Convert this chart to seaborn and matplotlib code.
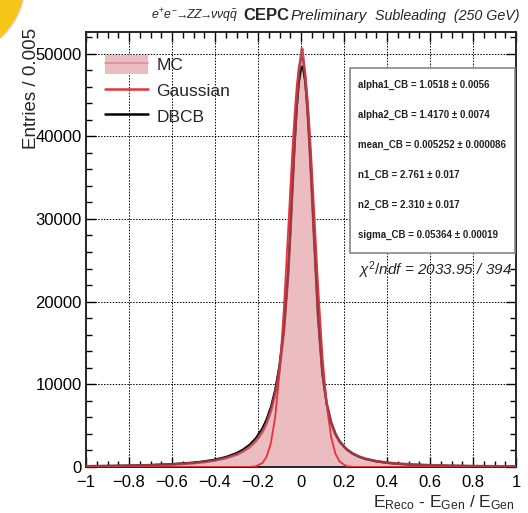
import matplotlib
matplotlib.use('Agg')
import matplotlib.pyplot as plt
import matplotlib.patches as mpatches
from matplotlib.lines import Line2D
from matplotlib.ticker import MultipleLocator, FixedLocator, FixedFormatter
import seaborn as sns
import numpy as np
import pandas as pd

x_vals = [-1.0, -0.9, -0.8, -0.7, -0.6, -0.5, -0.45, -0.4, -0.35, -0.3, -0.27, -0.24, -0.21,
          -0.18, -0.16, -0.14, -0.12, -0.10, -0.08, -0.06, -0.05, -0.04, -0.03, -0.02, -0.01,
          0.0, 0.005, 0.01, 0.02, 0.03, 0.04, 0.05, 0.06, 0.08, 0.10, 0.12, 0.14, 0.16, 0.18,
          0.21, 0.24, 0.27, 0.30, 0.35, 0.40, 0.45, 0.5, 0.6, 0.7, 0.8, 0.9, 1.0]
mc_vals = [80, 110, 150, 210, 300, 470, 610, 800, 1080, 1500, 1880, 2400, 3150,
           4250, 5300, 6800, 8900, 11900, 16400, 23300, 28300, 33800, 39200, 43900, 47600,
           49800, 50600, 49600, 47000, 43500, 39000, 33800, 28300, 18000, 11300, 7600, 5400, 4000, 3080,
           2200, 1640, 1260, 1000, 710, 530, 410, 320, 215, 150, 110, 85, 65]
dbcb_vals = [98, 128, 171, 239, 346, 532, 682, 891, 1202, 1675, 2094, 2663, 3468,
             4642, 5745, 7235, 9310, 12265, 16690, 23600, 28600, 34000, 39120, 43400, 46550,
             48190, 48400, 48190, 46550, 43400, 39120, 34000, 28600, 18180, 11240, 7557, 5384, 4004, 3080,
             2183, 1618, 1240, 976, 690, 509, 390, 306, 202, 142, 105, 80, 63]
gaus_vals = [0, 0, 0, 0, 0, 0, 0, 0, 0, 0, 2, 14, 91,
             473, 1237, 2893, 6053, 11350, 19010, 28520, 33510, 38310, 42560, 46000, 48350,
             49440, 49470, 49160, 47560, 44740, 40930, 36420, 31540, 21680, 13360, 7380, 3650, 1613, 639,
             129, 20, 2, 0, 0, 0, 0, 0, 0, 0, 0, 0, 0]

xtick_vals = [-1, -0.8, -0.6, -0.4, -0.2, 0, 0.2, 0.4, 0.6, 0.8, 1]
xtick_labels = ['\u22121', '\u22120.8', '\u22120.6', '\u22120.4', '\u22120.2', '0',
                '0.2', '0.4', '0.6', '0.8', '1']
ytick_vals = [0, 10000, 20000, 30000, 40000, 50000]

param_names = ['alpha1_CB', 'alpha2_CB', 'mean_CB', 'n1_CB', 'n2_CB', 'sigma_CB']
param_vals = ['1.0518', '1.4170', '0.005252', '2.761', '2.310', '0.05364']
param_errs = ['0.0056', '0.0074', '0.000086', '0.017', '0.017', '0.00019']

df = pd.DataFrame({'x': x_vals, 'MC': mc_vals, 'DBCB': dbcb_vals, 'Gaussian': gaus_vals})

sns.set_style('ticks')
plt.rcParams['font.family'] = ['Liberation Sans', 'DejaVu Sans']
plt.rcParams['mathtext.fontset'] = 'custom'
plt.rcParams['mathtext.rm'] = 'Liberation Sans'
plt.rcParams['mathtext.it'] = 'Liberation Sans:italic'
plt.rcParams['mathtext.bf'] = 'Liberation Sans:bold'

fill_col = '#ebbcc0'
edge_col = '#b3414b'
gaus_col = '#e8323c'

fig = plt.figure(figsize=(5.28, 5.13), dpi=100)
ax = fig.add_axes([86 / 528, 1 - 467 / 513, 430 / 528, 435 / 513])

ax.fill_between(df['x'], 0, df['MC'], color=fill_col, lw=0, zorder=2)
sns.lineplot(data=df, x='x', y='DBCB', color='black', lw=1.6, ax=ax, zorder=3)
sns.lineplot(data=df, x='x', y='Gaussian', color=gaus_col, lw=1.3, ax=ax, zorder=4)
sns.lineplot(data=df, x='x', y='MC', color=edge_col, lw=2.0, alpha=0.85, ax=ax, zorder=5)

ax.set_xlim(-1, 1)
ax.set_ylim(0, 52600)
ax.xaxis.set_major_locator(FixedLocator(xtick_vals))
ax.xaxis.set_major_formatter(FixedFormatter(xtick_labels))
ax.xaxis.set_minor_locator(MultipleLocator(0.05))
ax.yaxis.set_major_locator(FixedLocator(ytick_vals))
ax.yaxis.set_minor_locator(MultipleLocator(2000))
ax.tick_params(which='both', direction='in', top=True, right=True, labelsize=12, width=1, colors='black')
ax.tick_params(which='major', length=7, pad=3)
ax.tick_params(axis='x', which='major', pad=6)
ax.tick_params(which='minor', length=4)
for s in ax.spines.values():
    s.set_linewidth(1.4)
ax.grid(True, which='major', ls=(0, (1.5, 1.5)), color='black', lw=0.7, zorder=1)
ax.set_axisbelow(True)
ax.set_xlabel('')
ax.set_ylabel('')

fig.text(515 / 528, 1 - 507 / 513, r'E$_{\rm Reco}$ - E$_{\rm Gen}$ / E$_{\rm Gen}$',
         ha='right', va='baseline', fontsize=12.5)
fig.text(31 / 528, 1 - 28 / 513, 'Entries / 0.005', rotation=90, ha='center', va='top', fontsize=13.5)

# header, pieces placed where they sit in the original
ty = 1 - 16 / 513
fig.text(238 / 528, ty, r'$e^{+}e^{-}\!\!\rightarrow\!\!ZZ\!\!\rightarrow\!\!\nu\nu q\bar{q}$',
         ha='right', va='center', fontsize=8.8)
fig.text(243 / 528, ty, 'CEPC', ha='left', va='center', fontsize=12, fontweight='bold')
fig.text(291 / 528, ty, 'Preliminary', ha='left', va='center', fontsize=11, style='italic')
fig.text(375 / 528, ty, 'Subleading  (250 GeV)', ha='left', va='center', fontsize=10.3, style='italic')

# legend
mc_handle = (mpatches.Patch(facecolor=fill_col, edgecolor='none'),
             Line2D([], [], color='#d89098', lw=1.2))
handles = [mc_handle, Line2D([], [], color=gaus_col, lw=1.8), Line2D([], [], color='black', lw=1.8)]
ax.legend(handles, ['MC', 'Gaussian', 'DBCB'], loc='upper left', bbox_to_anchor=(0.035, 0.955),
          frameon=False, fontsize=12.5, handlelength=2.5, handleheight=1.3, handletextpad=0.5,
          labelspacing=0.4, borderpad=0.2, borderaxespad=0)

# parameter box
box = mpatches.Rectangle((0.614, 0.492), 0.383, 0.425, transform=ax.transAxes,
                         facecolor='white', edgecolor='#888888', lw=1.2, zorder=6)
ax.add_patch(box)
for i, (n, v, e) in enumerate(zip(param_names, param_vals, param_errs)):
    ypx = 85 + 30 * i
    ax.text(0.632, (467 - ypx) / 435, f'{n} = {v} \u00b1 {e}', transform=ax.transAxes,
            fontsize=7, fontweight='bold', color='#222222', ha='left', va='center', zorder=7)

ax.text(0.633, (467 - 270) / 435, r'$\mathit{\chi^{2}/ndf}$ = 2033.95 / 394', transform=ax.transAxes,
        fontsize=11, style='italic', ha='left', va='center', zorder=7)

# yellow logo edge in the corner
fig.patches.append(mpatches.Circle((-0.47, 5.29), 0.72, transform=fig.dpi_scale_trans,
                                   facecolor='#f5c518', edgecolor='#d8d8d8', lw=1, zorder=10))

fig.savefig('out.png', dpi=100)
